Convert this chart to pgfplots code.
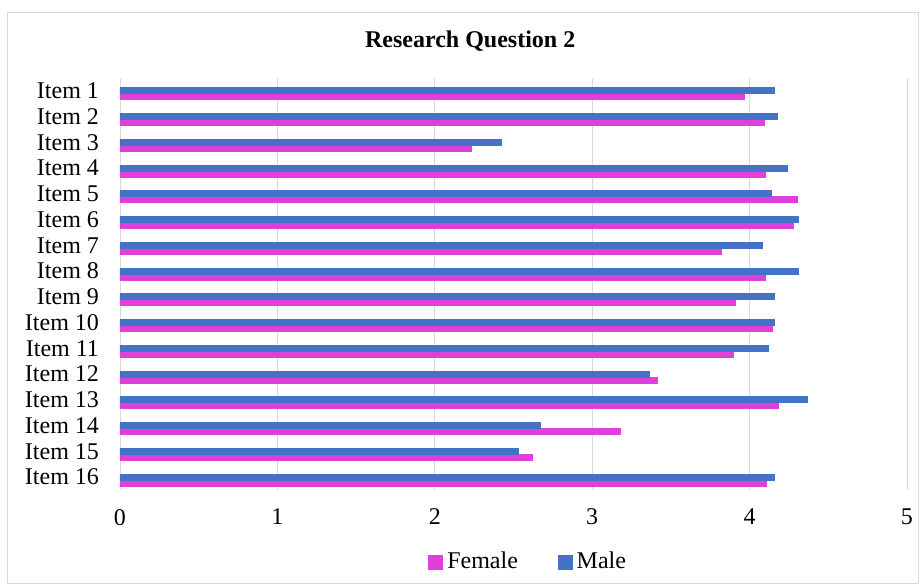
\documentclass[border=0pt]{standalone}
\usepackage{pgfplots}
\pgfplotsset{compat=1.18}
\usepackage{fontspec}
\setmainfont{Liberation Serif}

\definecolor{malec}{HTML}{4472C4}
\definecolor{femc}{HTML}{E040DA}
\definecolor{gridc}{HTML}{D9D9D9}

\begin{document}
\begin{tikzpicture}
  \useasboundingbox (-60pt,-47.5pt) rectangle (400pt,245pt);
  \draw[gridc] (-56.5pt,-46.5pt) rectangle (399pt,239pt);
  \begin{axis}[
    at={(0,0)}, anchor=south west,
    scale only axis,
    width=393.5pt, height=206pt,
    xbar, bar width=3pt,
    xmin=0, xmax=5,
    ymin=0.384, ymax=16.384,
    y dir=reverse,
    xtick={0,1,2,3,4,5},
    ytick={1,...,16},
    yticklabels={Item 1,Item 2,Item 3,Item 4,Item 5,Item 6,Item 7,Item 8,Item 9,Item 10,Item 11,Item 12,Item 13,Item 14,Item 15,Item 16},
    xmajorgrids, grid style={gridc},
    axis line style={draw=none},
    major tick length=0pt,
    tick label style={font=\fontsize{12}{14}\selectfont},
    xticklabel style={yshift=-6pt},
    yticklabel style={xshift=-7pt, yshift=1.5pt},
    /pgf/number format/assume math mode=true,
    title={Research Question 2},
    title style={at={(axis description cs:0.445,1)}, anchor=center, yshift=12.5pt, font=\fontsize{12}{14}\selectfont\bfseries},
    legend style={at={(axis description cs:0.52,0)}, anchor=center, yshift=-36pt, draw=none, fill=none,
      legend columns=2, font=\fontsize{12}{14}\selectfont,
      /tikz/every even column/.append style={column sep=18pt}},
    legend image code/.code={\fill[#1] (0pt,-3.5pt) rectangle (7pt,3.5pt);},
  ]
    \addplot[fill=femc, draw=femc, bar shift=-1.5pt] coordinates {
      (3.965,1) (4.091,2) (2.234,3) (4.102,4) (4.304,5) (4.281,6) (3.821,7) (4.102,8)
      (3.912,9) (4.146,10) (3.897,11) (3.414,12) (4.184,13) (3.180,14) (2.618,15) (4.108,16)};
    \addplot[fill=malec, draw=malec, bar shift=1.5pt] coordinates {
      (4.158,1) (4.179,2) (2.425,3) (4.237,4) (4.141,5) (4.313,6) (4.082,7) (4.313,8)
      (4.158,9) (4.158,10) (4.120,11) (3.362,12) (4.369,13) (2.673,14) (2.530,15) (4.158,16)};
    \legend{Female, Male}
  \end{axis}
\end{tikzpicture}
\end{document}
